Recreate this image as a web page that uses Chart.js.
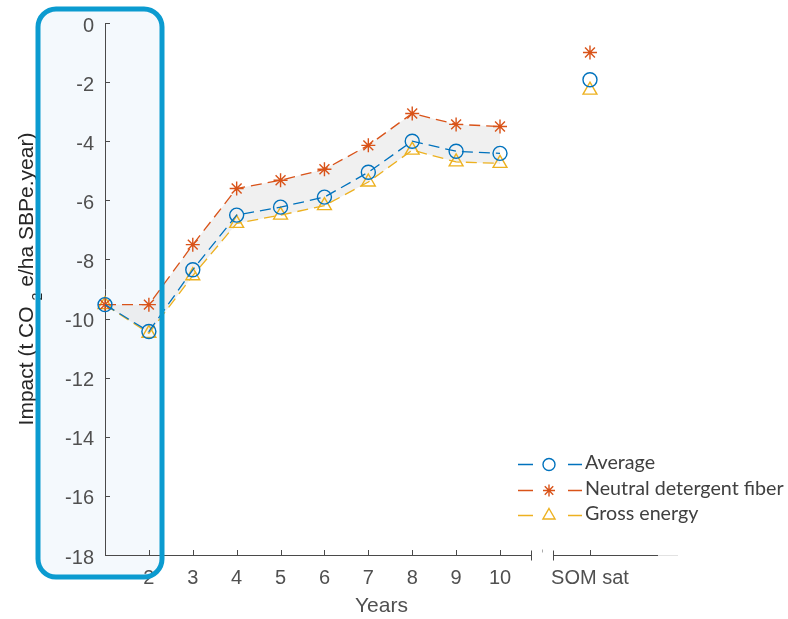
<!DOCTYPE html>
<html>
<head>
<meta charset="utf-8">
<script src="https://cdn.jsdelivr.net/npm/chart.js@4.4.1/dist/chart.umd.min.js"></script>
<style>
  html, body { margin: 0; padding: 0; background: #fff; }
  #wrap { width: 788px; height: 619px; }
</style>
</head>
<body>
<div id="wrap"><canvas id="impactChart" width="788" height="619"></canvas></div>
<script>
// === DATA ===
const years = [1, 2, 3, 4, 5, 6, 7, 8, 9, 10];
const somSatPos = 12.05;
const xTickValues = [2, 3, 4, 5, 6, 7, 8, 9, 10, somSatPos];
const xTickLabels = ['2', '3', '4', '5', '6', '7', '8', '9', '10', 'SOM sat'];

const averageValues = [-9.53, -10.44, -8.35, -6.5, -6.23, -5.89, -5.05, -4.0, -4.34, -4.41];
const ndfValues = [-9.53, -9.53, -7.5, -5.6, -5.32, -4.95, -4.14, -3.06, -3.43, -3.5];
const grossEnergyValues = [-9.53, -10.5, -8.55, -6.78, -6.5, -6.18, -5.38, -4.3, -4.7, -4.75];

const somAverage = [-1.92];
const somNdf = [-1.0];
const somGrossEnergy = [-2.27];

const seriesNames = ['Average', 'Neutral detergent fiber', 'Gross energy'];

// === STYLE ===
const COLORS = {
    blue: '#0072BD',
    red: '#D95319',
    yellow: '#EDB120',
    axis: '#4a4a4a',
    text: '#505050',
    title: '#262626',
    band: 'rgba(228, 228, 228, 0.55)',
    highlight: '#0b9bd0',
    highlightFill: '#f4f9fd'
};
const FONT = '"Liberation Sans", Arial, sans-serif';

const pointStyles = ['circle', 'star', 'triangle'];
const seriesColors = [COLORS.blue, COLORS.red, COLORS.yellow];
const pointSizes = [7, 7, 8];

function toPoints(xs, ys) {
    return xs.map((x, i) => ({ x: x, y: ys[i] }));
}

function lineDataset(label, values, idx, extra) {
    return Object.assign({
        label: label,
        data: toPoints(years, values),
        borderColor: seriesColors[idx],
        backgroundColor: 'rgba(0,0,0,0)',
        borderWidth: 1.3,
        borderDash: [11, 6],
        pointStyle: pointStyles[idx],
        pointRadius: pointSizes[idx],
        pointBorderWidth: 1.4,
        pointBorderColor: seriesColors[idx],
        pointBackgroundColor: 'rgba(0,0,0,0)',
        tension: 0,
        fill: false,
        clip: false
    }, extra || {});
}

function somDataset(label, values, idx) {
    return {
        label: label + ' (SOM sat)',
        data: toPoints([somSatPos], values),
        showLine: false,
        borderColor: seriesColors[idx],
        pointStyle: pointStyles[idx],
        pointRadius: pointSizes[idx],
        pointBorderWidth: 1.4,
        pointBorderColor: seriesColors[idx],
        pointBackgroundColor: 'rgba(0,0,0,0)',
        clip: false
    };
}

// highlight box around the first two years
const highlightBox = {
    id: 'highlightBox',
    beforeDraw(chart) {
        const ctx = chart.ctx;
        ctx.save();
        ctx.fillStyle = COLORS.highlightFill;
        ctx.beginPath();
        ctx.roundRect(38, 9, 124, 568, 18);
        ctx.fill();
        ctx.restore();
    },
    afterDraw(chart) {
        const ctx = chart.ctx;
        ctx.save();
        ctx.strokeStyle = COLORS.highlight;
        ctx.lineWidth = 5;
        ctx.beginPath();
        ctx.roundRect(38, 9, 124, 568, 18);
        ctx.stroke();
        ctx.restore();
    }
};

// MATLAB-like inward ticks, broken x axis, y title with subscript
const axisDecor = {
    id: 'axisDecor',
    afterDatasetsDraw(chart) {
        const ctx = chart.ctx;
        const xs = chart.scales.x, ys = chart.scales.y;
        const bottom = ys.bottom, left = xs.left;
        ctx.save();
        ctx.strokeStyle = COLORS.axis;
        ctx.lineWidth = 1;

        ys.ticks.forEach(t => {
            const py = Math.round(ys.getPixelForValue(t.value)) + 0.5;
            ctx.beginPath();
            ctx.moveTo(left, py);
            ctx.lineTo(left + 5, py);
            ctx.stroke();
        });

        xTickValues.forEach(v => {
            const px = Math.round(xs.getPixelForValue(v)) + 0.5;
            ctx.beginPath();
            ctx.moveTo(px, bottom);
            ctx.lineTo(px, bottom - 5);
            ctx.stroke();
        });

        const breakStart = Math.round(xs.getPixelForValue(10.7)) + 0.5;
        const breakEnd = Math.round(xs.getPixelForValue(11.2)) + 0.5;
        const breakMid = Math.round(xs.getPixelForValue(10.95)) + 0.5;
        const yb = Math.round(bottom) + 0.5;

        ctx.beginPath();
        ctx.moveTo(left, yb);
        ctx.lineTo(breakStart, yb);
        ctx.moveTo(breakStart, yb - 5);
        ctx.lineTo(breakStart, yb + 5);
        ctx.moveTo(breakEnd, yb - 5);
        ctx.lineTo(breakEnd, yb + 5);
        ctx.moveTo(breakEnd, yb);
        ctx.lineTo(xs.right, yb);
        ctx.stroke();

        ctx.strokeStyle = '#aaa';
        ctx.beginPath();
        ctx.moveTo(breakMid, yb - 6);
        ctx.lineTo(breakMid, yb - 3);
        ctx.stroke();

        ctx.strokeStyle = '#e2e2e2';
        ctx.beginPath();
        ctx.moveTo(xs.right, yb);
        ctx.lineTo(xs.right + 20, yb);
        ctx.stroke();

        // y axis title: Impact (t CO2e/ha SBPe.year)
        const part1 = 'Impact (t CO', sub = '2', part2 = 'e/ha SBPe.year)';
        const mainFont = '21px ' + FONT, subFont = '14px ' + FONT;
        ctx.font = mainFont;
        const w1 = ctx.measureText(part1).width;
        const w2 = ctx.measureText(part2).width;
        ctx.font = subFont;
        const ws = ctx.measureText(sub).width;
        const gap = 6;
        const total = w1 + gap + ws + gap + w2;
        const centerY = (ys.top + ys.bottom) / 2 - 10;
        ctx.translate(33, centerY + total / 2);
        ctx.rotate(-Math.PI / 2);
        ctx.fillStyle = COLORS.title;
        ctx.textBaseline = 'alphabetic';
        ctx.textAlign = 'left';
        ctx.font = mainFont;
        ctx.fillText(part1, 0, 0);
        ctx.font = subFont;
        ctx.fillText(sub, w1 + gap, 9);
        ctx.font = mainFont;
        ctx.fillText(part2, w1 + gap + ws + gap, 0);
        ctx.restore();
    }
};

// legend: dashed sample line with marker
const matlabLegend = {
    id: 'matlabLegend',
    afterDraw(chart) {
        const ctx = chart.ctx;
        const x0 = 518, rowY = [464, 490, 515];
        ctx.save();
        ctx.font = '100px Lato, "Open Sans", sans-serif';
        const fitSize = 100 * 199 / ctx.measureText(seriesNames[1]).width;
        ctx.font = fitSize.toFixed(1) + 'px Lato, "Open Sans", sans-serif';
        ctx.textBaseline = 'middle';
        seriesNames.forEach((name, i) => {
            const y = rowY[i] + 0.5;
            ctx.strokeStyle = seriesColors[i];
            ctx.fillStyle = 'rgba(0,0,0,0)';
            ctx.lineWidth = 1.4;
            ctx.beginPath();
            ctx.moveTo(x0, y); ctx.lineTo(x0 + 15, y);
            ctx.moveTo(x0 + 50, y); ctx.lineTo(x0 + 64, y);
            ctx.stroke();
            Chart.helpers.drawPoint(ctx, {
                pointStyle: pointStyles[i],
                radius: pointSizes[i] - 1,
                borderWidth: 1.4
            }, x0 + 31, y);
            ctx.fillStyle = '#404040';
            ctx.fillText(name, 585, rowY[i] - 1);
        });
        ctx.restore();
    }
};

new Chart(document.getElementById('impactChart'), {
    type: 'line',
    data: {
        datasets: [
            lineDataset(seriesNames[0], averageValues, 0),
            lineDataset(seriesNames[1], ndfValues, 1, { fill: { target: 2 }, backgroundColor: COLORS.band }),
            lineDataset(seriesNames[2], grossEnergyValues, 2),
            somDataset(seriesNames[0], somAverage, 0),
            somDataset(seriesNames[1], somNdf, 1),
            somDataset(seriesNames[2], somGrossEnergy, 2)
        ]
    },
    options: {
        responsive: false,
        animation: false,
        devicePixelRatio: 1,
        layout: { padding: { top: 22, right: 130, left: 0, bottom: 0 } },
        plugins: {
            legend: { display: false },
            tooltip: { enabled: false },
            filler: { drawTime: 'beforeDatasetsDraw' }
        },
        scales: {
            x: {
                type: 'linear',
                min: 1,
                max: 13.6,
                afterBuildTicks: scale => {
                    scale.ticks = xTickValues.map(v => ({ value: v }));
                },
                afterFit: scale => { scale.height = 64; },
                grid: { display: false, drawTicks: false },
                border: { display: false },
                ticks: {
                    autoSkip: false,
                    maxRotation: 0,
                    padding: 11,
                    color: COLORS.text,
                    font: { family: FONT, size: 20 },
                    callback: value => {
                        const i = xTickValues.indexOf(value);
                        return i >= 0 ? xTickLabels[i] : '';
                    }
                },
                title: {
                    display: true,
                    text: 'Years',
                    color: COLORS.text,
                    font: { family: FONT, size: 21 },
                    padding: { top: 0, bottom: 0 }
                }
            },
            y: {
                min: -18,
                max: 0,
                afterFit: scale => { scale.width = 105; },
                grid: { display: false, drawTicks: false },
                border: { display: true, color: COLORS.axis, width: 1 },
                ticks: {
                    stepSize: 2,
                    padding: 11,
                    labelOffset: 3,
                    color: COLORS.text,
                    font: { family: FONT, size: 20 }
                }
            }
        }
    },
    plugins: [highlightBox, axisDecor, matlabLegend]
});
</script>
</body>
</html>
